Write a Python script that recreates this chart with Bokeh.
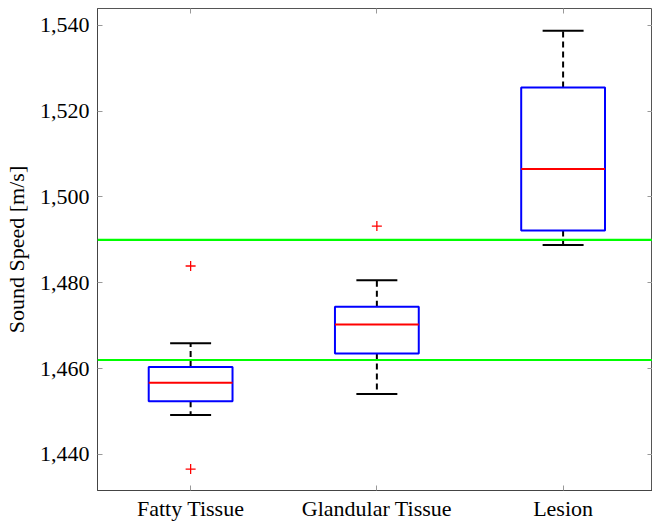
from bokeh.plotting import figure
from bokeh.models import Range1d, Span, LinearAxis, FixedTicker, NumeralTickFormatter, ColumnDataSource
from bokeh.embed import file_html
from bokeh.resources import INLINE

categories = ["Fatty Tissue", "Glandular Tissue", "Lesion"]
positions = [1, 2, 3]
q1 = [1452.4, 1463.5, 1492.2]
median = [1456.7, 1470.3, 1506.5]
q3 = [1460.4, 1474.4, 1525.5]
lower = [1449.2, 1454.1, 1488.8]
upper = [1465.9, 1480.6, 1538.7]
outlier_pos = [1, 1, 2]
outlier_val = [1436.6, 1483.9, 1493.2]
thresholds = [1462.0, 1490.0]
y_ticks = [1440, 1460, 1480, 1500, 1520, 1540]

FONT = "Liberation Serif"
FS = "22px"
BOX_W = 0.45
CAP_W = 0.22

p = figure(width=652, height=523, output_backend="svg", toolbar_location=None,
           x_range=Range1d(0.5, 3.48), y_range=Range1d(1431.6, 1543.9),
           min_border_left=0, min_border_right=0, min_border_top=8, min_border_bottom=0)
p.grid.visible = False
p.outline_line_color = "#555555"
p.background_fill_color = "white"
p.border_fill_color = "white"

def style_axis(ax):
    ax.major_tick_in = 5
    ax.major_tick_out = 0
    ax.minor_tick_line_color = None
    ax.major_tick_line_color = "#999999"
    ax.axis_line_color = "#444444"
    ax.major_label_text_font = FONT
    ax.major_label_text_font_size = FS
    ax.major_label_text_color = "black"

xa = p.xaxis[0]
xa.ticker = FixedTicker(ticks=positions)
xa.major_label_overrides = {pos: c for pos, c in zip(positions, categories)}
style_axis(xa)
xa.major_label_standoff = 5

ya = p.yaxis[0]
ya.ticker = FixedTicker(ticks=y_ticks)
ya.formatter = NumeralTickFormatter(format="0,0")
style_axis(ya)
ya.major_label_standoff = 8
ya.axis_label = "Sound Speed [m/s]"
ya.axis_label_text_font = FONT
ya.axis_label_text_font_size = FS
ya.axis_label_text_font_style = "normal"
ya.axis_label_text_color = "black"
ya.axis_label_standoff = 8

for loc, ticks in (("right", y_ticks), ("above", positions)):
    ax = LinearAxis(ticker=FixedTicker(ticks=ticks))
    style_axis(ax)
    ax.major_label_overrides = {t: "" for t in ticks}
    ax.major_label_text_font_size = "0px"
    ax.major_label_standoff = 0
    ax.axis_line_color = None
    p.add_layout(ax, loc)

for t in thresholds:
    p.add_layout(Span(location=t, dimension="width", line_color="#00ff00", line_width=2.2))

src = ColumnDataSource(dict(x=positions, q1=q1, med=median, q3=q3, lo=lower, hi=upper,
                            bl=[x - BOX_W / 2 for x in positions], br=[x + BOX_W / 2 for x in positions],
                            cl=[x - CAP_W / 2 for x in positions], cr=[x + CAP_W / 2 for x in positions]))

# whiskers
p.segment(x0="x", y0="q3", x1="x", y1="hi", source=src, line_color="black", line_width=2, line_dash="6 4")
p.segment(x0="x", y0="q1", x1="x", y1="lo", source=src, line_color="black", line_width=2, line_dash="6 4")
# caps
p.segment(x0="cl", y0="hi", x1="cr", y1="hi", source=src, line_color="black", line_width=2)
p.segment(x0="cl", y0="lo", x1="cr", y1="lo", source=src, line_color="black", line_width=2)
# boxes
p.quad(left="bl", right="br", bottom="q1", top="q3", source=src, fill_color="white",
       line_color="#0000ff", line_width=2)
# medians
p.segment(x0="bl", y0="med", x1="br", y1="med", source=src, line_color="#ff0000", line_width=2)
# outliers
p.scatter(x=outlier_pos, y=outlier_val, marker="cross", size=10, line_color="#ff0000", line_width=1.3)

open("out.html", "w").write(file_html(p, INLINE))
